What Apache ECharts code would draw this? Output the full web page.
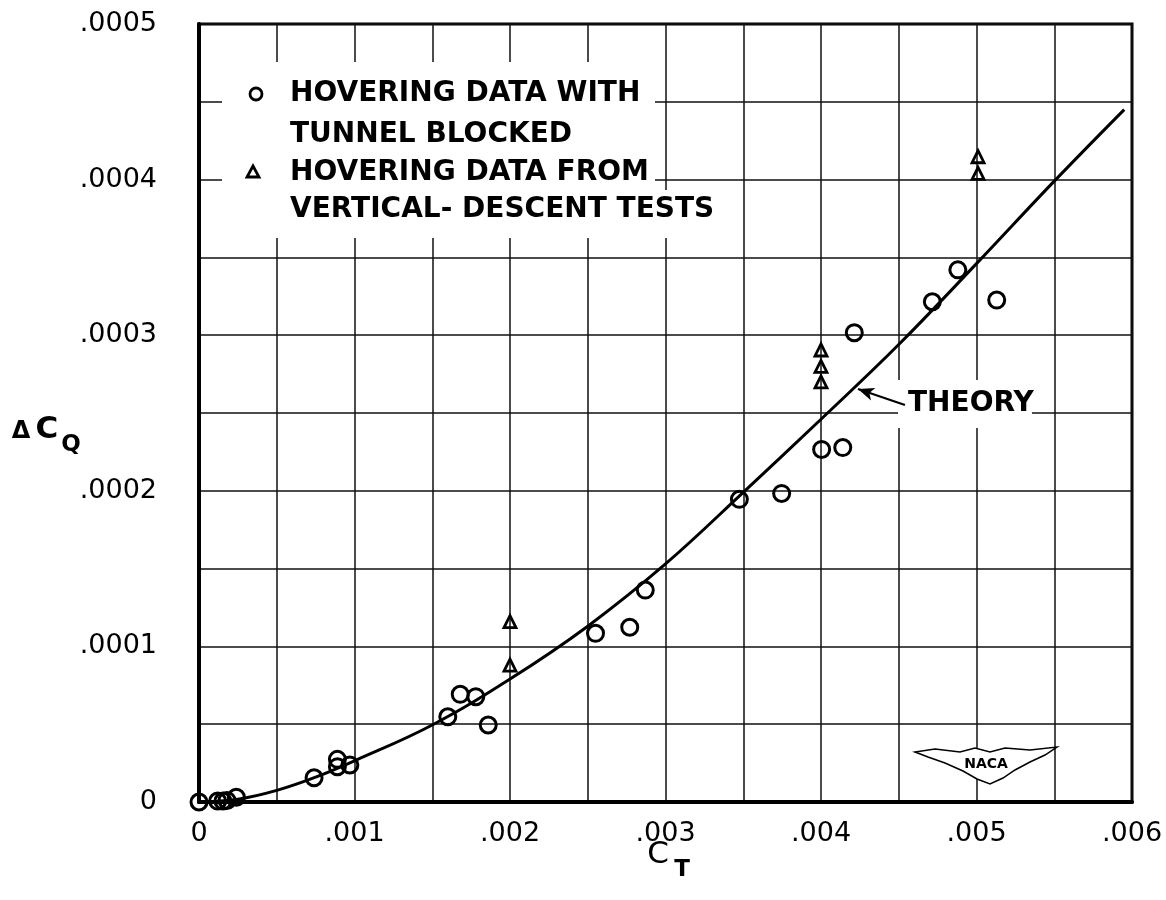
<!DOCTYPE html>
<html><head><meta charset="utf-8">
<script src="https://cdn.jsdelivr.net/npm/echarts@6/dist/echarts.min.js"></script>
<style>html,body{margin:0;padding:0;background:#fff}#c{width:1166px;height:900px}</style>
</head><body><div id="c"></div>
<script>
// ---- data ----
const xTickLabels = ['0', '.001', '.002', '.003', '.004', '.005', '.006'];
const yTickLabels = ['0', '.0001', '.0002', '.0003', '.0004', '.0005'];

// Hovering data with tunnel blocked (circles)
const circleCT  = [0, 0.00012, 0.000154, 0.00018, 0.00024, 0.00074, 0.00089, 0.00089, 0.00097,
                   0.0016, 0.00168, 0.00178, 0.00186, 0.00255, 0.00277, 0.00287, 0.003475, 0.003747,
                   0.004004, 0.00414, 0.004214, 0.004716, 0.00488, 0.00513];
const circleDCQ = [0, 0.0000006, 0.0000006, 0.000001, 0.000003, 0.0000156, 0.0000274, 0.0000227, 0.0000238,
                   0.0000548, 0.0000692, 0.0000677, 0.0000495, 0.0001084, 0.0001123, 0.0001362, 0.0001945, 0.0001983,
                   0.0002266, 0.0002278, 0.0003016, 0.0003215, 0.000342, 0.0003226];

// Hovering data from vertical-descent tests (triangles)
const triCT  = [0.002, 0.002, 0.004, 0.004, 0.004, 0.00501, 0.00501];
const triDCQ = [0.000088, 0.0001159, 0.00027, 0.00028, 0.0002905, 0.000404, 0.0004147];

// Theory curve
const theoryCT  = [0, 0.00025, 0.0005, 0.00075, 0.001, 0.0015, 0.002, 0.0025, 0.003,
                   0.0035, 0.004, 0.0045, 0.005, 0.0055, 0.00595];
const theoryDCQ = [0, 0.0000018, 0.0000075, 0.000016, 0.0000265, 0.0000495, 0.000079, 0.000113, 0.000153,
                   0.000199, 0.000246, 0.000294, 0.000346, 0.000399, 0.000445];

const legendLines = ['HOVERING DATA WITH', 'TUNNEL BLOCKED', 'HOVERING DATA FROM', 'VERTICAL- DESCENT TESTS'];
const theoryLabel = 'THEORY';
const theoryArrowTail = [0.00454, 0.0002551];
const theoryArrowTip  = [0.004238, 0.0002654];

// ---- chart ----
const zip = (a, b) => a.map((v, i) => [v, b[i]]);
const FONT = '"DejaVu Sans", sans-serif';
const gridLine = { show: true, lineStyle: { color: '#111', width: 1.5 } };

const chart = echarts.init(document.getElementById('c'), null, { renderer: 'canvas' });

function txt(text, x, y, size, weight, align) {
  return {
    type: 'text', z: 20,
    style: {
      text: text, x: x, y: y,
      font: (weight || 'normal') + ' ' + size + 'px ' + FONT,
      fill: '#000',
      align: align || 'left', textAlign: align || 'left',
      verticalAlign: 'middle', textVerticalAlign: 'middle'
    }
  };
}
function whiteRect(x, y, w, h) {
  return { type: 'rect', z: 1, shape: { x: x, y: y, width: w, height: h }, style: { fill: '#fff' } };
}

const graphics = [
  whiteRect(222, 62, 433, 128),
  whiteRect(222, 190, 493, 48),
  whiteRect(898, 380, 134, 48),
  { type: 'circle', z: 20, shape: { cx: 256, cy: 94, r: 6 }, style: { fill: 'none', stroke: '#000', lineWidth: 2.8 } },
  { type: 'polygon', z: 20, shape: { points: [[253, 166], [259, 177], [247, 177]] }, style: { fill: 'none', stroke: '#000', lineWidth: 2.8 } },
  txt(legendLines[0], 290, 94, 28, 'bold'),
  txt(legendLines[1], 290, 135, 28, 'bold'),
  txt(legendLines[2], 290, 173, 28, 'bold'),
  txt(legendLines[3], 290, 210, 28, 'bold'),
  txt(theoryLabel, 908, 404, 28, 'bold'),
  txt('\u0394', 21, 432, 24, 'bold', 'center'),
  txt('C', 47, 430, 31, 'bold', 'center'),
  txt('Q', 71, 445, 23, 'bold', 'center'),
  txt('C', 658, 855, 31, 'normal', 'center'),
  txt('T', 682, 870, 23, 'bold', 'center'),
  { type: 'polygon', z: 5, shape: { points: [
      [915, 752], [935, 749], [960, 752], [975, 748], [990, 752], [1005, 748], [1030, 750], [1057, 747],
      [1045, 755], [1030, 762], [1015, 770], [1003, 778], [990, 784], [977, 779], [963, 771], [945, 763], [928, 757]
    ] }, style: { fill: '#fff', stroke: '#000', lineWidth: 1.5 } },
  txt('NACA', 986, 764, 14, 'bold', 'center')
];

chart.setOption({
  animation: false,
  backgroundColor: '#fff',
  grid: { left: 199, right: 34, top: 24, bottom: 98, show: true, borderColor: '#000', borderWidth: 3, backgroundColor: 'transparent' },
  xAxis: {
    type: 'value', min: 0, max: 0.006, interval: 0.001,
    axisLine: { show: true, onZero: false, lineStyle: { color: '#000', width: 4 } },
    axisTick: { show: false },
    minorTick: { show: false, splitNumber: 2 },
    splitLine: gridLine,
    minorSplitLine: gridLine,
    axisLabel: { margin: 18, color: '#000', fontSize: 27, fontFamily: FONT,
      formatter: v => xTickLabels[Math.round(v / 0.001)] }
  },
  yAxis: {
    type: 'value', min: 0, max: 0.0005, interval: 0.0001,
    axisLine: { show: true, onZero: false, lineStyle: { color: '#000', width: 4 } },
    axisTick: { show: false },
    minorTick: { show: false, splitNumber: 2 },
    splitLine: gridLine,
    minorSplitLine: gridLine,
    axisLabel: { margin: 42, color: '#000', fontSize: 27, fontFamily: FONT,
      formatter: v => yTickLabels[Math.round(v / 0.0001)] }
  },
  series: [
    {
      name: 'Theory', type: 'line', data: zip(theoryCT, theoryDCQ), smooth: 0.4,
      showSymbol: false, z: 3, lineStyle: { color: '#000', width: 3 },
      markLine: {
        silent: true, symbol: ['none', 'arrow'], symbolSize: [10, 16],
        lineStyle: { color: '#000', width: 2, type: 'solid' }, label: { show: false },
        data: [[{ coord: theoryArrowTail }, { coord: theoryArrowTip }]]
      }
    },
    {
      name: 'Hovering data with tunnel blocked', type: 'scatter', data: zip(circleCT, circleDCQ),
      symbol: 'circle', symbolSize: 16, z: 4,
      itemStyle: { color: 'rgba(255,255,255,0)', borderColor: '#000', borderWidth: 3, opacity: 1 }
    },
    {
      name: 'Hovering data from vertical-descent tests', type: 'scatter', data: zip(triCT, triDCQ),
      symbol: 'triangle', symbolSize: 12, z: 4,
      itemStyle: { color: 'rgba(255,255,255,0)', borderColor: '#000', borderWidth: 2.8, opacity: 1 }
    }
  ],
  graphic: graphics
});
</script>
</body></html>
